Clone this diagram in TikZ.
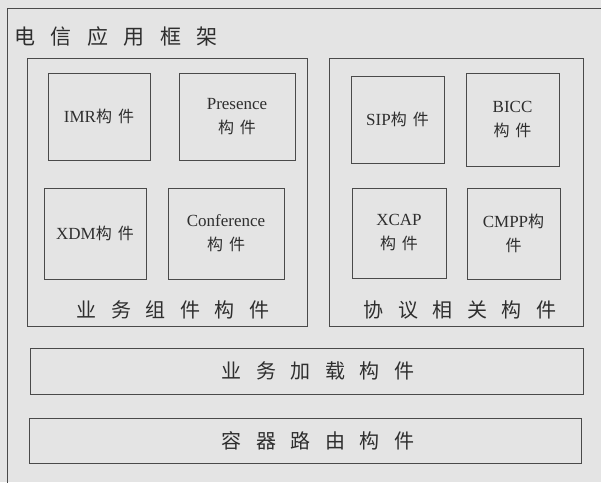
\documentclass[tikz,border=0pt]{standalone}
\usepackage{fontspec}
\setmainfont{Liberation Serif}
\newfontfamily\cjk{Noto Sans CJK SC}
\definecolor{bgc}{HTML}{E4E4E4}
\definecolor{linec}{HTML}{4A4A4A}
\definecolor{txtc}{HTML}{2E2E2E}
\newcommand{\gapT}{\hspace{15.5pt}}
\newcommand{\gapL}{\hspace{14.6pt}}
\newcommand{\gapS}{\hspace{6pt}}
\begin{document}
\begin{tikzpicture}[x=1pt,y=-1pt,
  box/.style={draw=linec,line width=1pt,rectangle,inner sep=0pt,text=txtc,align=center,
    font=\fontsize{17}{24}\selectfont},
  grp/.style={draw=linec,line width=1pt,rectangle,inner sep=0pt},
  lbl/.style={text=txtc,inner sep=0pt,font=\cjk\fontsize{20}{22}\selectfont},
  ck/.style={font=\cjk\fontsize{16}{24}\selectfont}]
\useasboundingbox (0,0) rectangle (601,482);
\clip (0,0) rectangle (601,482);
\fill[bgc] (0,0) rectangle (601,482);
\node[grp,anchor=north west,minimum width=620pt,minimum height=500pt] (frame) at (7,8) {};
\node[lbl,anchor=west,font=\cjk\fontsize{21}{24}\selectfont] (title) at (14,37) {电\gapT 信\gapT 应\gapT 用\gapT 框\gapT 架};
% groups
\node[grp,minimum width=280pt,minimum height=268pt] (left) at (167,192) {};
\node[grp,minimum width=254pt,minimum height=268pt] (right) at (456,192) {};
% left components
\node[box,minimum width=102pt,minimum height=87pt] (imr) at (99,116.5) {IMR{\cjk\fontsize{16}{24}\selectfont 构\gapS 件}};
\node[box,minimum width=116pt,minimum height=87pt] (pres) at (237,116.5) {Presence\\{\cjk\fontsize{16}{24}\selectfont 构\gapS 件}};
\node[box,minimum width=102pt,minimum height=91pt] (xdm) at (95,233.5) {XDM{\cjk\fontsize{16}{24}\selectfont 构\gapS 件}};
\node[box,minimum width=116pt,minimum height=91pt] (conf) at (226,233.5) {Conference\\{\cjk\fontsize{16}{24}\selectfont 构\gapS 件}};
\node[lbl] (lgl) at (173,310) {业\gapL 务\gapL 组\gapL 件\gapL 构\gapL 件};
% right components
\node[box,minimum width=93pt,minimum height=87pt] (sip) at (397.5,119.5) {SIP{\cjk\fontsize{16}{24}\selectfont 构\gapS 件}};
\node[box,minimum width=93pt,minimum height=93pt] (bicc) at (512.5,119.5) {BICC\\{\cjk\fontsize{16}{24}\selectfont 构\gapS 件}};
\node[box,minimum width=94pt,minimum height=90pt] (xcap) at (399,233) {XCAP\\{\cjk\fontsize{16}{24}\selectfont 构\gapS 件}};
\node[box,minimum width=93pt,minimum height=91pt] (cmpp) at (513.5,233.5) {CMPP{\cjk\fontsize{16}{24}\selectfont 构}\\{\cjk\fontsize{16}{24}\selectfont 件}};
\node[lbl] (rgl) at (460,310) {协\gapL 议\gapL 相\gapL 关\gapL 构\gapL 件};
% bottom bars
\node[grp,minimum width=553pt,minimum height=46pt] (load) at (306.5,371) {};
\node[lbl] at (318,371) (loadl) {业\gapL 务\gapL 加\gapL 载\gapL 构\gapL 件};
\node[grp,minimum width=552pt,minimum height=45pt] (route) at (305,440.5) {};
\node[lbl] at (318,440.5) (routel) {容\gapL 器\gapL 路\gapL 由\gapL 构\gapL 件};
\end{tikzpicture}
\end{document}
